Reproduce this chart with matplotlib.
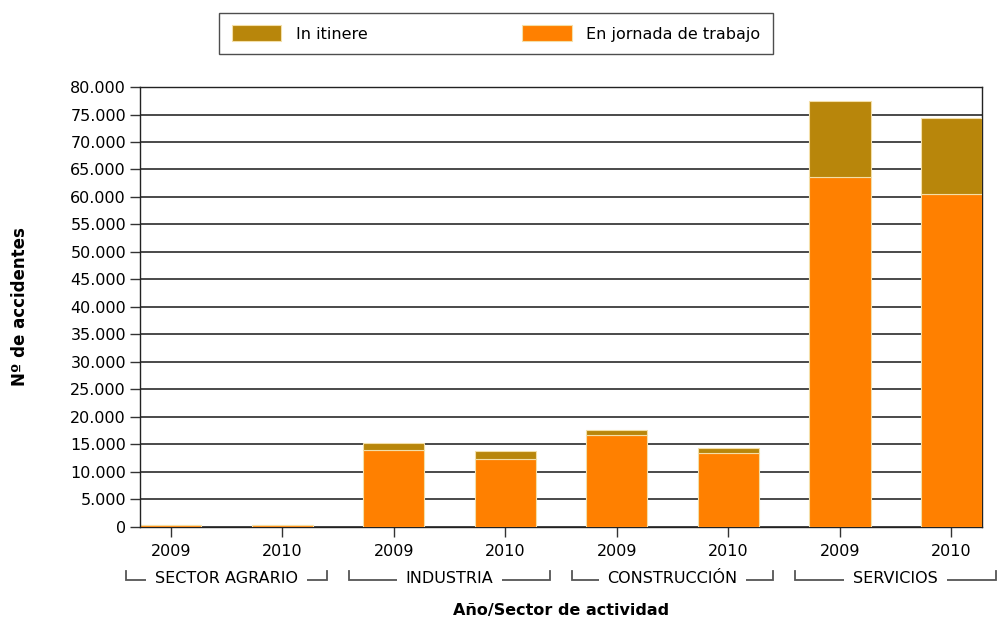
import matplotlib.pyplot as plt
from matplotlib.ticker import FuncFormatter, MultipleLocator
import matplotlib.transforms as mtransforms

years = ["2009", "2010", "2009", "2010", "2009", "2010", "2009", "2010"]
sectors = ["SECTOR AGRARIO", "INDUSTRIA", "CONSTRUCCIÓN", "SERVICIOS"]
en_jornada = [380, 370, 13960, 12440, 16650, 13480, 63720, 60600]
in_itinere = [40, 40, 1400, 1340, 1040, 790, 13740, 13680]

COLOR_ITINERE = "#B8860B"
COLOR_JORNADA = "#FF8000"
EDGE = "#F3DFA8"
LINE = "#555555"

plt.rcParams["font.family"] = ["DejaVu Sans"]
plt.rcParams["font.size"] = 11

fig = plt.figure(figsize=(9.97, 6.21), dpi=100)
ax = fig.add_axes([0.1404, 0.1514, 0.8446, 0.7085])

width = 0.55
x = list(range(len(years)))
ax.bar(x, en_jornada, width, color=COLOR_JORNADA, edgecolor=EDGE, linewidth=0.8,
       label="En jornada de trabajo", zorder=3)
ax.bar(x, in_itinere, width, bottom=en_jornada, color=COLOR_ITINERE, edgecolor=EDGE,
       linewidth=0.8, label="In itinere", zorder=3)

ax.set_xlim(-width / 2, len(years) - 1 + width / 2)
ax.set_ylim(0, 80000)
ax.yaxis.set_major_locator(MultipleLocator(5000))
ax.yaxis.set_major_formatter(FuncFormatter(lambda v, p: f"{int(v):,}".replace(",", ".")))
ax.set_xticks(x)
ax.set_xticklabels(years)
ax.tick_params(axis="both", direction="out", length=7, width=1, color="#333333",
               labelsize=11.5, colors="#000000")
ax.tick_params(axis="x", pad=5)
ax.tick_params(axis="y", pad=3)
ax.yaxis.grid(True, color="#3a3a3a", linewidth=1.3, zorder=1)
ax.set_axisbelow(True)
for side in ["left", "bottom", "top", "right"]:
    ax.spines[side].set_color("#222222")
    ax.spines[side].set_linewidth(1.0)
ax.spines["left"].set_zorder(4)

# sector brackets below the year labels
trans = mtransforms.blended_transform_factory(ax.transData, ax.transAxes)
y_line = -0.121
y_top = y_line + 0.02
for i, name in enumerate(sectors):
    c = 2 * i + 0.5
    l, r = c - 0.9, c + 0.9
    ax.plot([l, l, r, r], [y_top, y_line, y_line, y_top], color=LINE, linewidth=1.3,
            transform=trans, clip_on=False, solid_joinstyle="miter")
    ax.text(c, y_line + 0.004, name, transform=trans, ha="center", va="center",
            fontsize=11.5, bbox=dict(boxstyle="square,pad=0.55", facecolor="white",
                                     edgecolor="none"), clip_on=False)

ax.set_xlabel("Año/Sector de actividad", fontweight="bold", fontsize=11.5, labelpad=32)
ax.set_ylabel("Nº de accidentes", fontweight="bold", fontsize=12, labelpad=30)

handles, labels = ax.get_legend_handles_labels()
leg = fig.legend(handles[::-1], labels[::-1], loc="center", ncol=2,
                 bbox_to_anchor=(0.4975, 0.946), frameon=True, fancybox=False,
                 edgecolor="#222222", fontsize=11.5, handlelength=3.1, handleheight=1.1,
                 columnspacing=9.7, borderpad=0.8, handletextpad=0.9)
leg.get_frame().set_linewidth(1.0)

fig.savefig("out.png", dpi=100)
